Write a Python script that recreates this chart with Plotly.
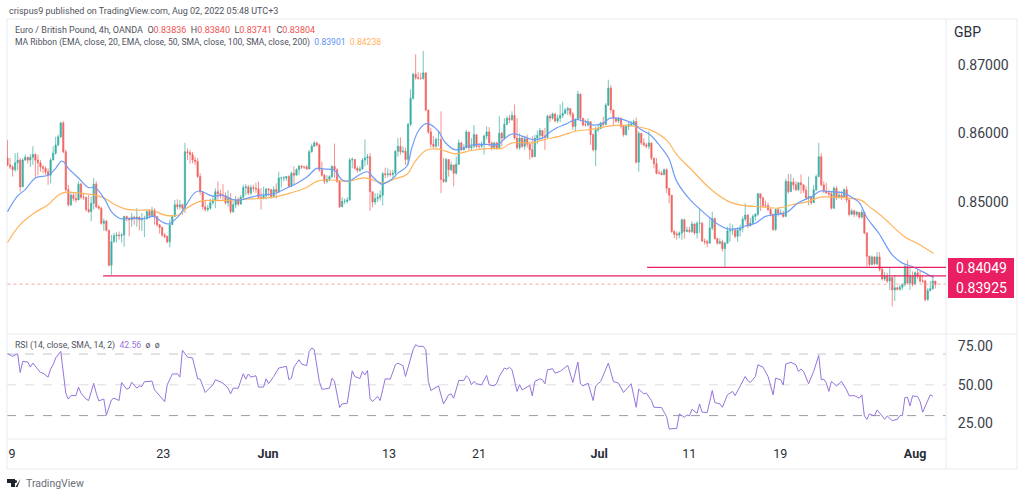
import numpy as np
import plotly.graph_objects as go

# candles, in pips (0.0001). bar index starts at -1
first_open = 8564
close_pips = [
    8554,8551,8547,8557,8561,8522,8561,8565,8561,8565,
    8569,8561,8557,8551,8549,8544,8539,8561,8571,8583,
    8595,8615,8573,8518,8496,8510,8505,8503,8526,8507,
    8507,8489,8486,8498,8526,8493,8491,8469,8472,8459,
    8408,8442,8451,8452,8451,8452,8479,8476,8474,8478,
    8476,8478,8474,8476,8476,8486,8480,8488,8479,8467,
    8463,8452,8450,8442,8467,8479,8496,8493,8496,8491,
    8573,8572,8569,8561,8559,8537,8515,8493,8489,8491,
    8499,8503,8515,8512,8510,8509,8499,8505,8486,8496,
    8503,8497,8507,8521,8522,8513,8521,8520,8519,8507,
    8505,8509,8519,8518,8508,8518,8515,8535,8535,8535,
    8537,8523,8542,8539,8547,8552,8551,8551,8548,8573,
    8581,8586,8583,8547,8539,8530,8533,8537,8552,8547,
    8530,8493,8501,8501,8503,8561,8562,8549,8546,8548,
    8561,8564,8566,8515,8500,8505,8507,8510,8541,8540,
    8541,8540,8542,8574,8581,8573,8574,8562,8613,8651,
    8686,8681,8680,8680,8688,8634,8602,8584,8581,8591,
    8591,8533,8530,8562,8547,8554,8542,8555,8586,8576,
    8579,8602,8579,8581,8598,8581,8581,8584,8596,8602,
    8586,8579,8586,8579,8600,8593,8613,8622,8620,8626,
    8593,8579,8593,8581,8592,8584,8576,8566,8593,8597,
    8604,8596,8594,8625,8622,8628,8618,8622,8626,8629,
    8634,8636,8628,8610,8620,8657,8622,8612,8612,8617,
    8598,8576,8605,8607,8615,8613,8641,8666,8634,8622,
    8618,8622,8610,8598,8610,8613,8613,8617,8558,8600,
    8586,8583,8581,8586,8564,8556,8542,8542,8540,8547,
    8520,8510,8457,8453,8452,8455,8474,8457,8459,8457,
    8468,8455,8469,8469,8443,8442,8440,8462,8476,8447,
    8440,8442,8432,8440,8458,8459,8459,8450,8459,8462,
    8475,8481,8465,8469,8479,8482,8512,8506,8495,8495,
    8489,8482,8460,8489,8483,8484,8479,8530,8515,8529,
    8525,8518,8528,8525,8517,8506,8508,8499,8518,8537,
    8566,8525,8516,8513,8512,8491,8520,8506,8510,8507,
    8518,8503,8482,8487,8482,8485,8478,8485,8455,8421,
    8409,8420,8410,8420,8402,8388,8392,8385,8390,8372,
    8375,8373,8376,8380,8406,8382,8392,8380,8397,8392,
    8385,8385,8358,8371,8374,8385,8380,
]
high_pips = [
    8590,8564,8554,8571,8572,8564,8564,8569,8566,8570,
    8581,8571,8569,8561,8554,8552,8549,8564,8581,8595,
    8598,8617,8618,8576,8525,8515,8513,8513,8530,8528,
    8513,8507,8510,8508,8535,8530,8496,8493,8476,8474,
    8459,8452,8455,8456,8457,8455,8480,8480,8478,8484,
    8480,8491,8479,8484,8480,8488,8489,8493,8491,8479,
    8467,8464,8455,8451,8474,8481,8503,8504,8503,8498,
    8586,8578,8576,8573,8566,8564,8542,8515,8503,8496,
    8505,8510,8520,8530,8518,8526,8514,8517,8513,8503,
    8509,8507,8510,8525,8526,8525,8525,8525,8528,8530,
    8520,8522,8520,8520,8519,8523,8527,8544,8537,8538,
    8538,8539,8544,8552,8549,8554,8554,8552,8554,8576,
    8585,8589,8588,8585,8559,8541,8539,8539,8553,8585,
    8549,8532,8507,8505,8507,8564,8565,8562,8552,8552,
    8564,8591,8570,8571,8515,8513,8513,8517,8544,8550,
    8549,8547,8547,8575,8593,8594,8581,8579,8615,8664,
    8688,8715,8689,8688,8720,8688,8634,8608,8596,8594,
    8603,8632,8564,8564,8557,8559,8554,8566,8591,8588,
    8584,8605,8602,8593,8612,8591,8586,8588,8598,8610,
    8609,8588,8588,8588,8625,8602,8622,8625,8627,8632,
    8642,8622,8600,8596,8596,8598,8588,8596,8598,8604,
    8608,8605,8608,8627,8628,8630,8630,8627,8642,8646,
    8637,8639,8636,8631,8622,8662,8658,8620,8620,8622,
    8617,8600,8610,8612,8617,8624,8644,8678,8670,8634,
    8624,8624,8623,8612,8612,8617,8618,8620,8623,8603,
    8600,8593,8586,8603,8586,8564,8564,8547,8545,8549,
    8549,8520,8510,8459,8457,8457,8476,8476,8464,8464,
    8472,8469,8472,8491,8471,8447,8445,8476,8486,8477,
    8447,8447,8445,8442,8464,8469,8467,8462,8463,8467,
    8479,8498,8482,8477,8482,8484,8513,8511,8508,8502,
    8499,8491,8483,8490,8492,8489,8487,8534,8541,8541,
    8535,8530,8529,8540,8525,8523,8537,8508,8525,8540,
    8586,8571,8530,8528,8518,8516,8523,8523,8516,8516,
    8520,8523,8506,8490,8489,8487,8485,8489,8486,8456,
    8422,8422,8421,8427,8427,8404,8398,8397,8405,8392,
    8393,8377,8380,8382,8409,8415,8406,8399,8399,8402,
    8400,8394,8387,8375,8385,8394,8384,
]
low_pips = [
    8552,8548,8537,8544,8546,8515,8535,8560,8556,8551,
    8554,8535,8539,8544,8542,8539,8525,8527,8561,8569,
    8581,8593,8571,8515,8493,8494,8501,8499,8503,8504,
    8503,8486,8484,8472,8489,8491,8489,8467,8458,8457,
    8406,8394,8441,8441,8445,8441,8435,8472,8450,8464,
    8467,8464,8459,8458,8449,8474,8476,8483,8467,8464,
    8454,8449,8447,8440,8434,8467,8481,8489,8489,8481,
    8484,8561,8556,8556,8554,8535,8510,8489,8486,8486,
    8489,8496,8491,8503,8505,8503,8496,8493,8483,8484,
    8491,8494,8496,8505,8510,8510,8510,8515,8513,8505,
    8489,8504,8504,8508,8505,8507,8505,8513,8521,8530,
    8531,8521,8522,8525,8539,8539,8548,8548,8547,8548,
    8572,8580,8581,8544,8537,8526,8527,8530,8535,8535,
    8528,8491,8497,8497,8498,8502,8549,8547,8543,8544,
    8547,8552,8554,8487,8492,8496,8500,8502,8495,8535,
    8536,8537,8535,8537,8566,8569,8571,8554,8554,8610,
    8649,8678,8678,8678,8678,8632,8599,8579,8578,8579,
    8581,8513,8528,8528,8537,8545,8523,8540,8554,8574,
    8575,8578,8575,8575,8578,8578,8576,8579,8569,8591,
    8581,8575,8576,8576,8578,8581,8591,8612,8615,8618,
    8591,8576,8576,8579,8576,8579,8562,8564,8566,8584,
    8591,8591,8576,8593,8616,8620,8616,8615,8616,8622,
    8628,8627,8624,8605,8603,8620,8617,8610,8610,8610,
    8583,8574,8552,8602,8606,8610,8613,8640,8629,8612,
    8615,8615,8607,8595,8597,8605,8610,8612,8556,8544,
    8583,8581,8578,8577,8561,8549,8540,8540,8539,8539,
    8513,8498,8455,8447,8445,8447,8445,8447,8457,8455,
    8455,8452,8447,8455,8443,8438,8434,8440,8459,8445,
    8438,8438,8428,8405,8440,8442,8452,8447,8442,8450,
    8456,8472,8462,8467,8467,8473,8479,8487,8492,8492,
    8487,8479,8458,8458,8479,8481,8477,8479,8512,8516,
    8518,8516,8516,8512,8513,8503,8495,8496,8499,8516,
    8536,8523,8513,8512,8508,8489,8490,8503,8506,8503,
    8510,8499,8479,8481,8478,8479,8476,8476,8453,8406,
    8406,8408,8408,8408,8399,8386,8385,8382,8372,8348,
    8356,8371,8371,8372,8377,8380,8372,8377,8379,8388,
    8382,8382,8355,8356,8370,8372,8374,
]

# moving averages, read at the bends of each line
ema20_x = [
    -1,3,6,10,15,18,20,21,23,27,
    31,33.5,37.5,40,43.4,48,53,56.6,60,62.5,
    66.4,69,73,75,79.5,82,84,87.5,91,95,
    99,104,109,113,117,121,124,128,131,134,
    137.5,141,143.5,146.6,150.6,153,156.5,158.5,161,164,
    165.7,169,171.6,175.6,179,182,187,192.7,194.7,198,
    202,206,210,212.4,215.7,219,223,227,230,234,
    236.7,242,246.6,249,252.5,256.5,259.8,263,268.3,272,
    276,279.5,282.8,288,290,294,298,303,306.4,311,
    316.3,319.6,323,329,332,335,338,342.6,348,352,
    355.8,359.7,364.3,
]
ema20_pips = [
    8486,8509,8518,8535,8539,8549,8559,8559,8549,8535,
    8521,8521,8503,8486,8476,8476,8476,8479,8471,8468,
    8479,8493,8514,8516,8509,8509,8510,8504,8503,8507,
    8510,8512,8520,8527,8536,8549,8548,8546,8532,8531,
    8539,8544,8535,8526,8533,8542,8552,8579,8603,8614,
    8613,8603,8587,8576,8579,8583,8584,8584,8591,8599,
    8596,8591,8593,8600,8608,8613,8620,8617,8612,8615,
    8622,8620,8612,8605,8598,8581,8564,8530,8503,8490,
    8477,8467,8461,8462,8465,8469,8479,8482,8485,8499,
    8508,8516,8515,8513,8507,8499,8477,8455,8423,8411,
    8406,8399,8390,
]
ema50_x = [
    -1,4,10,15,19,21.7,27,33.5,37.5,41.4,
    45.4,50.6,56,61,66.4,69.7,73,76,84,91,
    97.6,104,110.5,117,121,126.6,133,140,147.3,152,
    156.5,159.8,164,169,175.6,182,190,194,198,206,
    211,217,223,230,235.4,241,246.6,252.5,259,263,
    269.6,276,282.8,289,296.6,303,308.4,315,319.6,325,
    329.5,336,338.7,344,353,358.4,364.3,
]
ema50_pips = [
    8441,8467,8485,8496,8510,8514,8513,8510,8505,8496,
    8490,8488,8488,8481,8481,8491,8498,8502,8502,8504,
    8505,8507,8513,8521,8530,8532,8530,8535,8528,8534,
    8540,8559,8575,8577,8570,8575,8578,8578,8586,8586,
    8591,8596,8603,8606,8610,8612,8610,8605,8590,8569,
    8544,8520,8502,8495,8493,8491,8496,8501,8507,8507,
    8506,8502,8494,8479,8449,8439,8425,
]

rsi_x = [
    -1,1,3,4,5,7,8,9,12,13,
    15,16,17,18,20,22,23,24,26,27,
    28,30,31,33,34,35,37,38,40,41,
    43,44,46,47,48,50,51,52,53,56,
    57,59,61,62,64,66,67,68,70,72,
    74,75,77,80,81,84,86,87,88,90,
    92,93,94,95,97,98,100,101,102,104,
    106,109,110,111,112,114,115,117,118,119,
    120,122,123,124,126,127,128,130,131,133,
    135,136,138,139,140,141,142,143,145,146,
    148,150,152,153,155,156,159,160,161,163,
    164,165,166,169,171,173,174,175,177,179,
    180,181,182,183,184,186,188,189,191,192,
    193,
    195,196,197,198,200,201,202,203,205,206,
    207,209,210,211,212,214,215,217,220,222,
    224,225,226,228,230,231,233,236,238,240,
    242,245,247,248,250,251,253,254,257,259,
    260,263,264,266,267,268,269,271,272,273,
    275,277,278,280,281,283,285,286,290,291,
    292,294,295,297,299,301,302,304,305,306,
    308,310,311,312,313,315,317,319,320,321,
    322,323,324,326,328,330,331,333,335,336,
    337,338,339,341,342,344,345,346,348,350,
    351,352,353,354,355,356,358,359,360,363,
    364,
]
rsi_values = [
    70.2,68.5,70.2,58,65.2,64.8,61.5,64.1,58,57.6,
    55,60.2,63,67.4,71.7,44.6,40.7,43,43,48.5,
    44.6,40.7,39.8,51,44.6,39.6,40.7,30.2,40.2,41.3,
    39.8,51.5,47.2,47.8,51.7,47.8,49.3,48.9,52,52.4,
    46.7,42.8,39.1,50,57,57.2,55,72.4,68,67.4,
    53.9,53.7,45,50,53.3,51.1,47.8,44.1,47.8,47.8,
    57.2,53.7,57,55,55.9,48.5,48.5,53.9,50.7,55.4,
    60.9,62,53.3,54.3,61.5,66.3,63.5,62.4,71.7,73.9,
    72.8,52.2,47.2,47.2,47.8,54.3,52.2,35.2,37.6,38,
    59.1,55.4,54.1,58.7,56.5,59.3,41.3,39.1,42.4,39.8,
    53.9,53.7,63,64.1,62.4,55.4,72.8,76,75,75,
    72.8,52.2,46.3,49.3,37.6,43.5,44.1,41.3,52.8,52.8,
    55.9,54.3,50,52.2,50.7,50,56.1,50,49.3,51.1,
    55.4,
    60.9,60.2,61.3,59.8,45.7,50,46.7,47.8,49.6,42.8,
    52.2,53.9,53.3,50.7,59.8,60.4,57.6,58.7,62.6,51.5,
    64.8,50.7,49.3,51.1,39.8,49.3,52.2,64.1,52.2,51.1,
    45,50.7,35.4,47.2,44.1,44.6,39.8,35.4,35.2,29.3,
    21.3,21.7,31.1,28.9,30.4,29.8,34.1,31.5,37.6,32.2,
    32,46.3,38.5,37.6,35.4,43.5,45.7,43,55.4,52.8,
    51.5,55.4,63,61.5,55.4,43.5,54.3,53.3,50,63.5,
    64.6,63,58.7,60.2,58.7,50.7,58.7,69.1,53.3,53.7,
    51.1,45.7,52.2,49.3,52.2,46.7,42.8,43,41.3,43.5,
    29.8,27.6,31.1,29.8,33.7,29.8,27.6,29.8,26.7,27.6,
    30,30,41.7,42,36.3,42.8,42.4,39.1,32.2,43.5,
    42.6,
]

# axis labels and levels
date_ticks = [0.8, 60.4, 101.8, 149.5, 185, 232.4, 267.9, 303.8, 357]
date_labels = ["9", "23", "<b>Jun</b>", "13", "21", "<b>Jul</b>", "11", "19", "<b>Aug</b>"]
price_ticks = [0.85, 0.86, 0.87]
rsi_ticks = [25, 50, 75]
rsi_levels = [(70, "#c4c6cc"), (50, "#dcdde2"), (30, "#9a9ca3")]
support_low = 0.83925
support_high = 0.84049
support_low_from = 36.7
support_high_from = 251.3
last_close = 0.83804

FONT = "Roboto"
TEXT = "#50535e"
RED = "#ef5350"
GREEN = "#26a69a"
PINK = "#e91e63"

W, H = 1024, 495
LEFT, RIGHT, TOP, BOTTOM = 7, 946, 19, 439


def px(x):
    return (x - LEFT) / (RIGHT - LEFT)


def py(y):
    return (BOTTOM - y) / (BOTTOM - TOP)


close = np.array(close_pips) / 10000
opens = np.concatenate([[first_open / 10000], close[:-1]])
high = np.maximum(np.array(high_pips) / 10000, np.maximum(opens, close))
low = np.minimum(np.array(low_pips) / 10000, np.minimum(opens, close))
bars = np.arange(len(close)) - 1

fig = go.Figure()
fig.add_trace(go.Candlestick(
    x=bars, open=opens, high=high, low=low, close=close,
    increasing=dict(line=dict(color=GREEN, width=0.7), fillcolor=GREEN),
    decreasing=dict(line=dict(color=RED, width=0.7), fillcolor=RED),
    yaxis="y", xaxis="x", opacity=0.9,
))
fig.add_trace(go.Scatter(x=ema50_x, y=np.array(ema50_pips) / 10000, mode="lines",
                         line=dict(color="#ffb45c", width=1.2, shape="spline"), yaxis="y"))
fig.add_trace(go.Scatter(x=ema20_x, y=np.array(ema20_pips) / 10000, mode="lines",
                         line=dict(color="#6f9cf7", width=1.2, shape="spline"), yaxis="y"))
fig.add_trace(go.Scatter(x=[-1, 372], y=[last_close, last_close], mode="lines",
                         line=dict(color="#f7a8a6", width=1, dash="dot"), yaxis="y"))
fig.add_trace(go.Scatter(x=[support_low_from, 372], y=[support_low, support_low], mode="lines",
                         line=dict(color=PINK, width=1.4), yaxis="y"))
fig.add_trace(go.Scatter(x=[support_high_from, 372], y=[support_high, support_high], mode="lines",
                         line=dict(color=PINK, width=1.4), yaxis="y"))
fig.add_trace(go.Scatter(x=rsi_x, y=rsi_values, mode="lines",
                         line=dict(color="#9575dc", width=1), yaxis="y2"))

shapes = []
for level, color in rsi_levels:
    shapes.append(dict(type="line", xref="paper", yref="y2", x0=0, x1=1, y0=level, y1=level,
                       line=dict(color=color, width=1, dash="dash"), layer="below"))

# pane frame
frame = "#e9ebf0"
for x0, y0, x1, y1 in [(7, 19, 1017, 19), (7, 19, 7, 469), (946, 19, 946, 469), (1017, 19, 1017, 469),
                       (7, 469, 1017, 469), (7, 334, 1017, 334), (7, 439, 946, 439)]:
    shapes.append(dict(type="line", xref="paper", yref="paper", x0=px(x0), x1=px(x1), y0=py(y0), y1=py(y1),
                       line=dict(color=frame, width=1), layer="below"))

# price label box
shapes.append(dict(type="rect", xref="paper", yref="paper", x0=px(948), x1=px(1014), y0=py(258), y1=py(298),
                   fillcolor=PINK, line=dict(width=0), layer="above"))

# TradingView mark
logo = "#1e222d"
shapes.append(dict(type="path", xref="paper", yref="paper", fillcolor=logo, line=dict(width=0),
                   path=f"M {px(7)} {py(479)} L {px(15)} {py(479)} L {px(15)} {py(487)} L {px(11)} {py(487)} L {px(11)} {py(483)} L {px(7)} {py(483)} Z"))
shapes.append(dict(type="circle", xref="paper", yref="paper", fillcolor=logo, line=dict(width=0),
                   x0=px(14.5), x1=px(17), y0=py(483), y1=py(480)))
shapes.append(dict(type="path", xref="paper", yref="paper", fillcolor=logo, line=dict(width=0),
                   path=f"M {px(17.5)} {py(487)} L {px(20.5)} {py(479)} L {px(15.5)} {py(487)} Z"))


def note(x, y, text, size=9, color=TEXT, anchor="left"):
    return dict(xref="paper", yref="paper", x=px(x), y=py(y), text=text, showarrow=False,
                xanchor=anchor, yanchor="middle", align=anchor,
                font=dict(family=FONT, size=size, color=color))


ohlc_red = f'<span style="color:{RED}">'
annotations = [
    note(7, 11, "crispus9 published on TradingView.com, Aug 02, 2022 05:48 UTC+3"),
    note(13, 30, f'Euro / British Pound, 4h, OANDA  O{ohlc_red}0.83836</span>  H{ohlc_red}0.83840</span>'
                 f'  L{ohlc_red}0.83741</span>  C{ohlc_red}0.83804</span>'),
    note(13, 42, 'MA Ribbon (EMA, close, 20, EMA, close, 50, SMA, close, 100, SMA, close, 200)'
                 '  <span style="color:#5b8ff9">0.83901</span>  <span style="color:#ffb45c">0.84238</span>', size=8.6),
    note(13, 345, 'RSI (14, close, SMA, 14, 2)  <span style="color:#9575dc">42.56</span>  ø  ø', size=8.7),
    note(967, 32, "GBP", size=14, color="#2a2e39", anchor="center"),
    note(981, 268, "0.84049", size=14, color="#ffffff", anchor="center"),
    note(981, 288, "0.83925", size=14, color="#ffffff", anchor="center"),
    note(24, 483, "TradingView", size=10.5, color="#6a6d78"),
]

fig.update_layout(
    width=W, height=H, autosize=False, showlegend=False,
    paper_bgcolor="white", plot_bgcolor="white",
    margin=dict(l=LEFT, r=W - RIGHT, t=TOP, b=H - BOTTOM),
    font=dict(family=FONT, color="#2a2e39"),
    shapes=shapes, annotations=annotations,
    xaxis=dict(
        domain=[0, 1], anchor="y2", range=[-1.2, 369.2], rangeslider=dict(visible=False),
        tickmode="array", tickvals=date_ticks, ticktext=date_labels,
        ticks="outside", ticklen=3, tickcolor="rgba(0,0,0,0)",
        tickfont=dict(family=FONT, size=12.5, color="#2a2e39"),
        showgrid=False, zeroline=False, showline=False,
    ),
    yaxis=dict(
        domain=[(BOTTOM - 333) / (BOTTOM - TOP), 1], anchor="x", side="right",
        range=[0.83093, 0.87664], tickmode="array", tickvals=price_ticks, tickformat=".5f",
        ticks="outside", ticklen=8, tickcolor="rgba(0,0,0,0)",
        tickfont=dict(family=FONT, size=14, color="#3a3e4a"),
        showgrid=False, zeroline=False, showline=False,
    ),
    yaxis2=dict(
        domain=[0, (BOTTOM - 334) / (BOTTOM - TOP)], anchor="x", side="right",
        range=[14.8, 83], tickmode="array", tickvals=rsi_ticks, tickformat=".2f",
        ticks="outside", ticklen=8, tickcolor="rgba(0,0,0,0)",
        tickfont=dict(family=FONT, size=14, color="#3a3e4a"),
        showgrid=False, zeroline=False, showline=False,
    ),
)

# the page default body margin would push everything 8px down and right
fig.write_html("out.html", config=dict(displayModeBar=False),
               post_script="document.body.style.margin='0';")
